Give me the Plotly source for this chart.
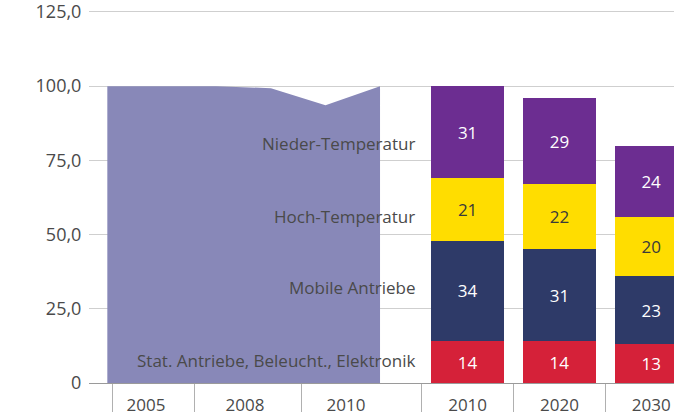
import plotly.graph_objects as go

# ---- data ----
area_years = [2005, 2006, 2007, 2008, 2009, 2010]
area_values = [100, 100, 100, 99.3, 93.6, 100]
left_labels = ["2005", "2008", "2010"]

bar_cats = ["2010", "2020", "2030"]
series_names = ["Stat. Antriebe, Beleucht., Elektronik", "Mobile Antriebe",
                "Hoch-Temperatur", "Nieder-Temperatur"]
stat_vals = [14, 14, 13]
mobil_vals = [34, 31, 23]
hoch_vals = [21, 22, 20]
nieder_vals = [31, 29, 24]

y_ticks = [0, 25, 50, 75, 100, 125]
y_ticktext = ["0", "25,0", "50,0", "75,0", "100,0", "125,0"]

# ---- style ----
FONT = "Open Sans"
TXT = "#4a4a4a"
GRID = "#cfcfcf"
colors = ["#D52139", "#2E3A68", "#FFDD00", "#6C2D91"]
text_colors = ["white", "white", "#3a3a3a", "white"]

fig = go.Figure()

fig.add_trace(go.Scatter(
    x=area_years, y=area_values, xaxis="x2", yaxis="y",
    mode="none", fill="tozeroy", fillcolor="#8888B8",
    hoverinfo="skip", showlegend=False))

series = [stat_vals, mobil_vals, hoch_vals, nieder_vals]
for name, vals, c, tc in zip(series_names, series, colors, text_colors):
    fig.add_trace(go.Bar(
        x=bar_cats, y=vals, name=name, marker_color=c, marker_line_width=0,
        width=0.8, text=[str(v) for v in vals], textposition="inside",
        insidetextanchor="middle", textangle=0, constraintext="none",
        textfont=dict(family=FONT, size=17, color=tc),
        hoverinfo="skip", showlegend=False, xaxis="x", yaxis="y"))

# dummy trace for separator axis
fig.add_trace(go.Scatter(x=[0], y=[0], xaxis="x3", yaxis="y", mode="none",
                         hoverinfo="skip", showlegend=False))

# series labels next to the first bar
cum = 0
yshifts = [2, 3, -7, -11]
for name, vals, ys in zip(series_names, series, yshifts):
    mid = cum + vals[0] / 2
    cum += vals[0]
    fig.add_annotation(x=0, y=mid, xref="x", yref="y", text=name,
                       showarrow=False, xanchor="right", xshift=-51, yshift=ys,
                       font=dict(family=FONT, size=17, color=TXT))

bar_range = [-4.124, 2.248]
year_range = [2004.664, 2015.39]
label_pos = [2005.709, 2007.524, 2009.376]
sep_pos = [-3.866, -2.98, -1.807, -0.5, 0.5, 1.5]

fig.update_layout(
    width=674, height=412,
    margin=dict(l=89, r=0, t=9, b=28.5, autoexpand=False),
    paper_bgcolor="white", plot_bgcolor="white",
    barmode="stack", bargap=0.2, hovermode=False,
    font=dict(family=FONT, size=17, color=TXT),
    xaxis=dict(type="category", categoryorder="array", categoryarray=bar_cats,
               range=bar_range, showgrid=False, zeroline=False, automargin=False,
               showline=True, linecolor="#9a9a9a", linewidth=1,
               ticks="outside", ticklen=7, tickcolor="rgba(0,0,0,0)",
               ticklabeloverflow="allow",
               tickfont=dict(family=FONT, size=17, color=TXT)),
    xaxis2=dict(overlaying="x", range=year_range, showgrid=False, zeroline=False,
                tickvals=label_pos, ticktext=left_labels, automargin=False,
                ticks="outside", ticklen=7, tickcolor="rgba(0,0,0,0)",
                ticklabeloverflow="allow",
                tickfont=dict(family=FONT, size=17, color=TXT), side="bottom"),
    xaxis3=dict(overlaying="x", range=bar_range, showgrid=False, zeroline=False,
                tickvals=sep_pos, showticklabels=False, side="bottom",
                automargin=False,
                ticks="outside", ticklen=30, tickcolor="#b0b0b0", tickwidth=1),
    yaxis=dict(range=[0, 126], tickvals=y_ticks, ticktext=y_ticktext,
               showgrid=True, gridcolor=GRID, gridwidth=1, zeroline=False,
               showline=False, ticks="outside", ticklen=3, automargin=False,
               tickcolor="rgba(0,0,0,0)", ticklabeloverflow="allow",
               tickfont=dict(family=FONT, size=18, color=TXT)),
)

fig.write_html(
    "out.html",
    config={"displayModeBar": False},
    post_script="document.body.style.margin='0';document.body.style.overflow='hidden';",
)
